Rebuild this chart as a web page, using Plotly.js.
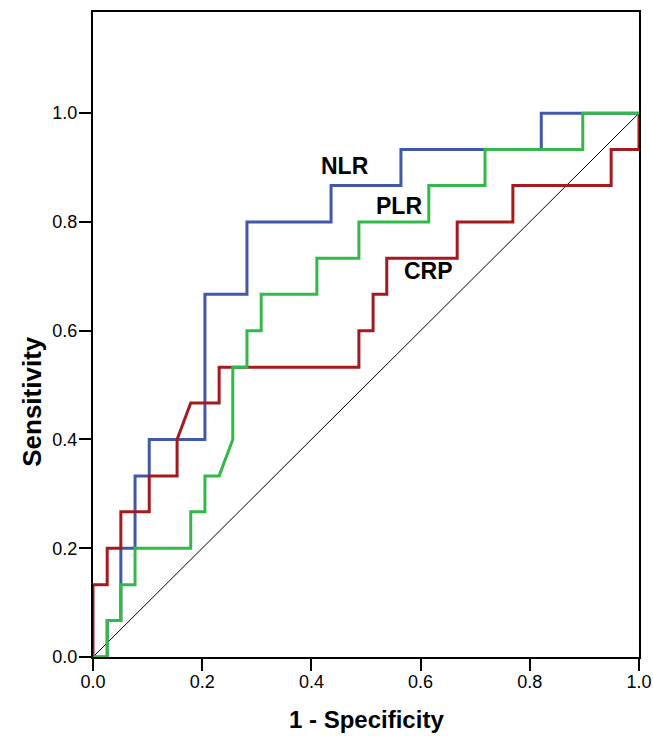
<!DOCTYPE html>
<html>
<head>
<meta charset="utf-8">
<script src="https://cdn.plot.ly/plotly-3.0.1.min.js"></script>
<style>html,body{margin:0;padding:0;background:#fff}#chart{width:653px;height:737px}</style>
</head>
<body>
<div id="chart"></div>
<script>
// ROC curve vertices (1 - Specificity, Sensitivity)
const nlrX = [0, 0.026, 0.026, 0.051, 0.051, 0.077, 0.077, 0.103, 0.103, 0.205, 0.205, 0.282, 0.282, 0.436, 0.436, 0.564, 0.564, 0.821, 0.821, 1];
const nlrY = [0, 0, 0.067, 0.067, 0.2, 0.2, 0.333, 0.333, 0.4, 0.4, 0.667, 0.667, 0.8, 0.8, 0.867, 0.867, 0.933, 0.933, 1, 1];

const plrX = [0, 0.026, 0.026, 0.051, 0.051, 0.077, 0.077, 0.179, 0.179, 0.205, 0.205, 0.231, 0.256, 0.256, 0.282, 0.282, 0.308, 0.308, 0.410, 0.410, 0.487, 0.487, 0.615, 0.615, 0.718, 0.718, 0.897, 0.897, 1];
const plrY = [0, 0, 0.067, 0.067, 0.133, 0.133, 0.2, 0.2, 0.267, 0.267, 0.333, 0.333, 0.4, 0.533, 0.533, 0.6, 0.6, 0.667, 0.667, 0.733, 0.733, 0.8, 0.8, 0.867, 0.867, 0.933, 0.933, 1, 1];

const crpX = [0, 0, 0.026, 0.026, 0.051, 0.051, 0.103, 0.103, 0.154, 0.154, 0.179, 0.231, 0.231, 0.487, 0.487, 0.513, 0.513, 0.538, 0.538, 0.667, 0.667, 0.769, 0.769, 0.949, 0.949, 1, 1];
const crpY = [0, 0.133, 0.133, 0.2, 0.2, 0.267, 0.267, 0.333, 0.333, 0.4, 0.467, 0.467, 0.533, 0.533, 0.6, 0.6, 0.667, 0.667, 0.733, 0.733, 0.8, 0.8, 0.867, 0.867, 0.933, 0.933, 1];

const refX = [0, 1];
const refY = [0, 1];

const seriesNames = ['NLR', 'PLR', 'CRP'];
const tickVals = [0, 0.2, 0.4, 0.6, 0.8, 1.0];
const tickText = ['0.0', '0.2', '0.4', '0.6', '0.8', '1.0'];

const FONT = 'Liberation Sans, Arial, sans-serif';
const colors = {NLR: '#4159ab', PLR: '#33b84a', CRP: '#a41a1e'};

const traces = [
  {x: refX, y: refY, mode: 'lines', line: {color: '#000', width: 1}, hoverinfo: 'skip', name: 'ref'},
  {x: nlrX, y: nlrY, mode: 'lines', line: {color: colors.NLR, width: 3}, name: seriesNames[0]},
  {x: crpX, y: crpY, mode: 'lines', line: {color: colors.CRP, width: 3}, name: seriesNames[2]},
  {x: plrX, y: plrY, mode: 'lines', line: {color: colors.PLR, width: 3}, name: seriesNames[1]}
];

const axisCommon = {
  showgrid: false, zeroline: false,
  showline: true, mirror: true, linecolor: '#000', linewidth: 2,
  ticks: 'outside', ticklen: 12, tickwidth: 2, tickcolor: '#000',
  tickvals: tickVals, ticktext: tickText,
  tickfont: {family: FONT, size: 18, color: '#000'}
};

const layout = {
  width: 653, height: 737,
  margin: {l: 93, r: 14, t: 12, b: 80},
  paper_bgcolor: '#fff', plot_bgcolor: '#fff',
  showlegend: false,
  xaxis: Object.assign({}, axisCommon, {range: [0, 1], ticklabelstandoff: -5}),
  yaxis: Object.assign({}, axisCommon, {range: [0, 1.186], ticklabelstandoff: -2}),
  annotations: [
    {text: '<b>1 - Specificity</b>', xref: 'paper', yref: 'paper', x: 0.5, y: -0.097, xanchor: 'center', yanchor: 'middle', showarrow: false, font: {family: FONT, size: 24, color: '#000'}},
    {text: '<b>Sensitivity</b>', xref: 'paper', yref: 'paper', x: -0.112, y: 0.397, xanchor: 'center', yanchor: 'middle', textangle: -90, showarrow: false, font: {family: FONT, size: 26, color: '#000'}},
    {text: '<b>' + seriesNames[0] + '</b>', x: 0.461, y: 0.903, xanchor: 'center', yanchor: 'middle', showarrow: false, font: {family: FONT, size: 23, color: '#000'}},
    {text: '<b>' + seriesNames[1] + '</b>', x: 0.561, y: 0.830, xanchor: 'center', yanchor: 'middle', showarrow: false, font: {family: FONT, size: 23, color: '#000'}},
    {text: '<b>' + seriesNames[2] + '</b>', x: 0.614, y: 0.709, xanchor: 'center', yanchor: 'middle', showarrow: false, font: {family: FONT, size: 23, color: '#000'}}
  ]
};

Plotly.newPlot('chart', traces, layout, {displayModeBar: false, staticPlot: true});
</script>
</body>
</html>
